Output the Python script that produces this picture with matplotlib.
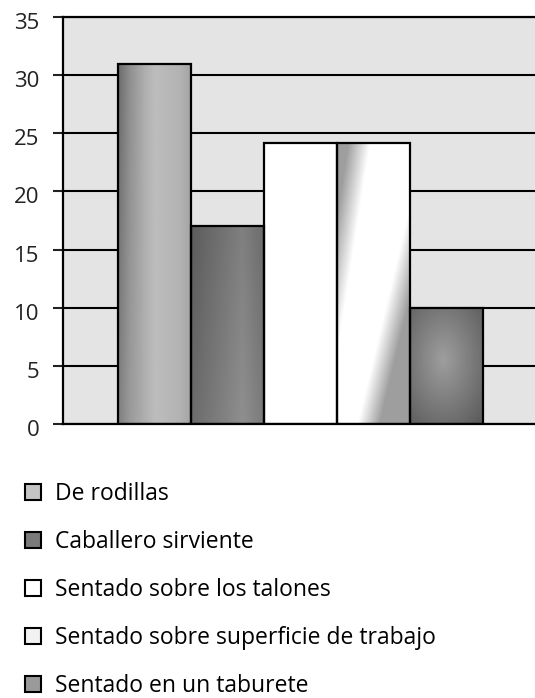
import numpy as np
import matplotlib.pyplot as plt
import matplotlib.transforms as mtransforms
from matplotlib.patches import Patch

# data
categories = ['De rodillas', 'Caballero sirviente', 'Sentado sobre los talones',
              'Sentado sobre superficie de trabajo', 'Sentado en un taburete']
values = [31, 17, 24.2, 24.2, 10]
yticks = [0, 5, 10, 15, 20, 25, 30, 35]

legend_colors = ['#c4c4c4', '#7a7a7a', '#ffffff', '#f2f2f2', '#9a9a9a']

plt.rcParams['font.family'] = ['Open Sans', 'DejaVu Sans']

W, H = 535, 698
fig = plt.figure(figsize=(W / 100, H / 100), dpi=100)
ax = fig.add_axes([63 / W, 1 - 424 / H, (W - 63) / W, (424 - 17) / H])
ax.set_facecolor('#e4e4e4')

x = np.arange(len(values))
bars = ax.bar(x, values, width=1.0, facecolor='none', edgecolor='black',
              linewidth=1.6, zorder=3)


def shade(i):
    # grey level fill for each bar (v=0 is the top of the bar)
    u, v = np.meshgrid(np.linspace(0, 1, 80), np.linspace(0, 1, 160))
    if i == 0:
        g = np.interp(u, [0, 0.15, 0.5, 0.85, 1], [0.5, 0.6, 0.74, 0.7, 0.64])
        g = g - 0.08 * (1 - v) * np.clip(1 - u / 0.35, 0, 1)
    elif i == 1:
        g = np.interp(u, [0, 0.4, 0.7, 1], [0.36, 0.44, 0.5, 0.42])
        g = g + 0.06 * v
    elif i == 2:
        g = np.ones_like(u)
    elif i == 3:
        s1 = np.clip((0.45 - (u + 0.6 * v)) / 0.3, 0, 1)
        s2 = np.clip(((u + 0.92 * v) - 1.2) / 0.3, 0, 1)
        g = 1 - 0.38 * np.maximum(s1, s2)
    else:
        r = np.sqrt((u - 0.45) ** 2 + (v - 0.45) ** 2)
        g = 0.62 - 0.35 * r
    return g


for i, b in enumerate(bars):
    x0, h = b.get_x(), b.get_height()
    im = ax.imshow(shade(i), cmap='gray', vmin=0, vmax=1, aspect='auto',
                   extent=(x0, x0 + b.get_width(), 0, h), origin='upper',
                   interpolation='bilinear', zorder=2.5)
    im.set_clip_path(b)

ax.set_xlim(-1.253, 5.21)
ax.set_ylim(0, 35)
ax.set_yticks(yticks)
ax.set_xticks([])
ax.yaxis.grid(True, color='black', linewidth=1.5)
ax.set_axisbelow(True)
ax.tick_params(axis='y', length=7, width=1.5, pad=10, labelsize=16, colors='#222222')
# labels sit a little below their ticks in the original
offset = mtransforms.ScaledTranslation(0, -4 / 100, fig.dpi_scale_trans)
for lab in ax.get_yticklabels():
    lab.set_transform(lab.get_transform() + offset)

for side in ['left', 'bottom', 'top']:
    ax.spines[side].set_linewidth(1.6)
    ax.spines[side].set_color('black')
ax.spines['right'].set_visible(False)

handles = [Patch(facecolor=c, edgecolor='black', linewidth=1.5) for c in legend_colors]
fig.legend(handles, categories, loc='upper left',
           bbox_to_anchor=(25 / W, 1 - 482 / H), frameon=False, fontsize=16.5,
           handlelength=0.7, handleheight=0.7, handletextpad=0.6,
           labelspacing=1.05, borderpad=0, borderaxespad=0)

fig.savefig('out.png', dpi=100)
